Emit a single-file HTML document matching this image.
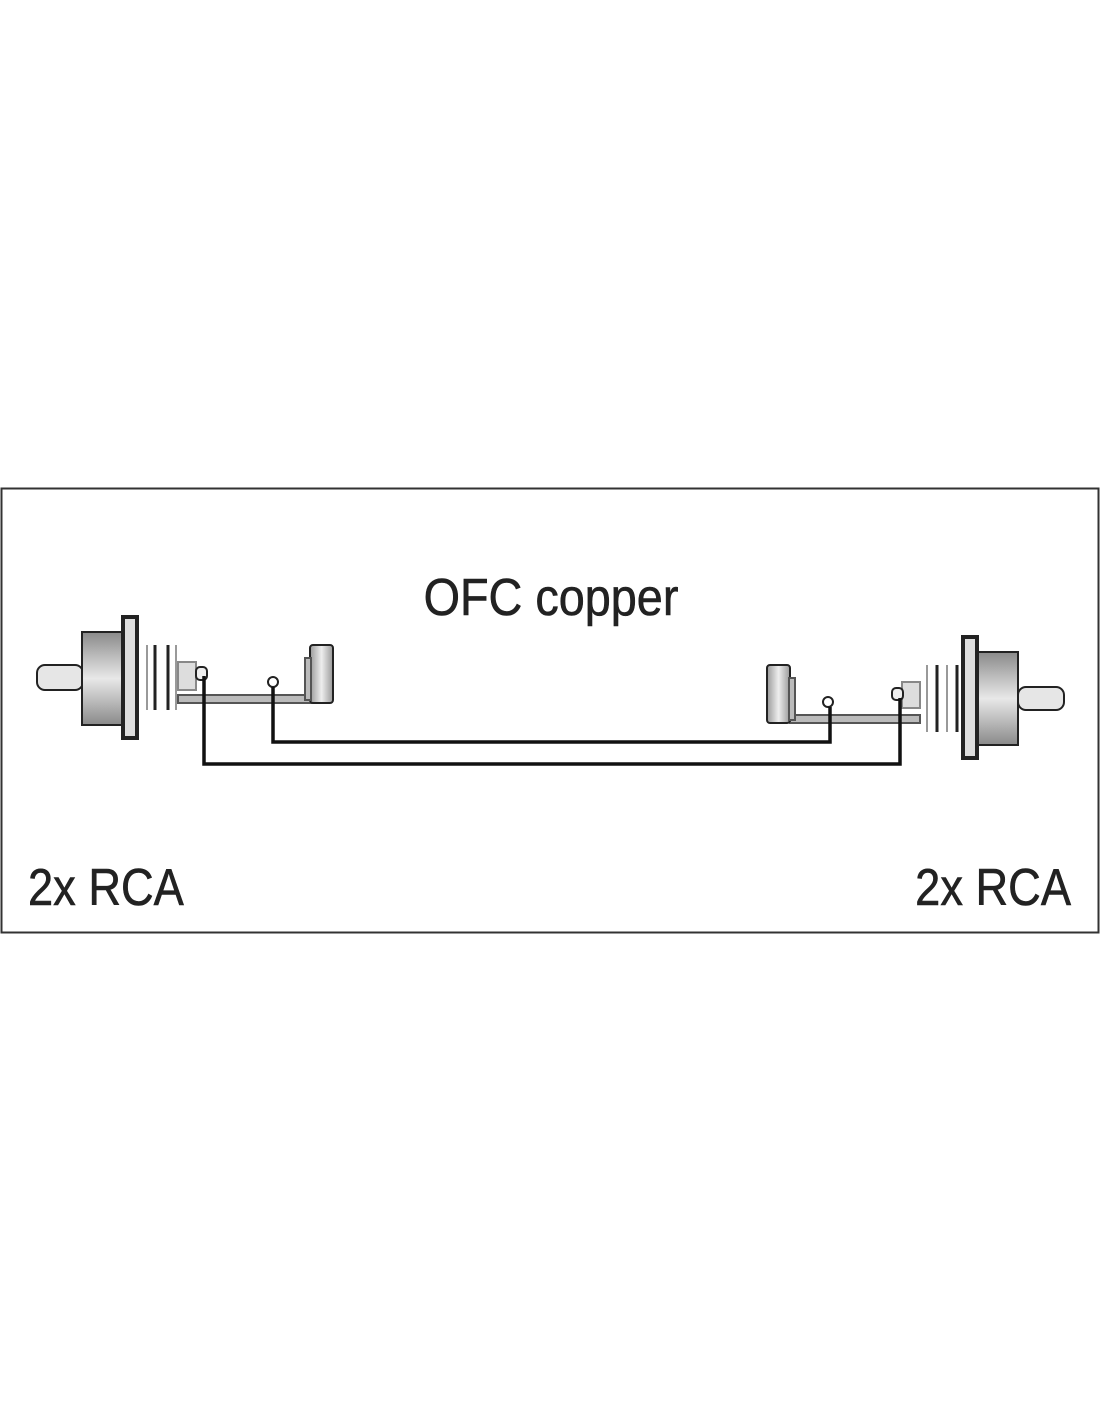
<!DOCTYPE html>
<html><head><style>
html,body{margin:0;padding:0;background:#fff;}
svg{display:block}
</style></head><body>
<svg width="1100" height="1422" viewBox="0 0 1100 1422" xmlns="http://www.w3.org/2000/svg">
<defs>
<linearGradient id="g" x1="0" y1="0" x2="0" y2="1">
<stop offset="0" stop-color="#8a8a8a"/><stop offset="0.5" stop-color="#e8e8e8"/><stop offset="1" stop-color="#8a8a8a"/>
</linearGradient>
<linearGradient id="gh" x1="0" y1="0" x2="1" y2="0">
<stop offset="0" stop-color="#999"/><stop offset="0.5" stop-color="#eee"/><stop offset="1" stop-color="#999"/>
</linearGradient>
</defs>
<rect x="1.5" y="488.5" width="1097" height="444" fill="#fff" stroke="#333" stroke-width="2"/>
<text x="551" y="615" font-family="Liberation Sans, sans-serif" font-size="52" text-anchor="middle" fill="#222" stroke="#222" stroke-width="0.6" transform="translate(551 0) scale(0.9 1) translate(-551 0)">OFC copper</text>
<text x="28" y="905" font-family="Liberation Sans, sans-serif" font-size="52" fill="#222" stroke="#222" stroke-width="0.6" transform="translate(28 0) scale(0.87 1) translate(-28 0)">2x RCA</text>
<text x="1071" y="905" font-family="Liberation Sans, sans-serif" font-size="52" fill="#222" stroke="#222" stroke-width="0.6" text-anchor="end" transform="translate(1071 0) scale(0.87 1) translate(-1071 0)">2x RCA</text>

<g stroke="#222" stroke-width="2">
<rect x="37" y="665" width="46" height="25" rx="8" fill="#e6e6e6"/>
<rect x="82" y="632" width="41" height="93" fill="url(#g)"/>
<rect x="123" y="617" width="14" height="121" fill="#ddd" stroke-width="4"/>
<line x1="147" y1="645" x2="147" y2="710" stroke="#999"/>
<line x1="155" y1="645" x2="155" y2="710" stroke-width="3"/>
<line x1="168" y1="645" x2="168" y2="710" stroke-width="3"/>
<line x1="176" y1="645" x2="176" y2="710" stroke="#999"/>
<rect x="178" y="662" width="18" height="28" fill="#ddd" stroke="#888"/>
<rect x="196" y="667" width="11" height="13" rx="4" fill="#eee"/>
<rect x="178" y="695" width="135" height="8" fill="#bbb" stroke="#555"/>
<rect x="310" y="645" width="23" height="58" rx="3" fill="url(#gh)"/>
<rect x="305" y="658" width="6" height="42" fill="#bbb" stroke="#555"/>
<circle cx="273" cy="682" r="5" fill="#fff"/>
<rect x="1018" y="687" width="46" height="23" rx="8" fill="#e6e6e6"/>
<rect x="978" y="652" width="40" height="93" fill="url(#g)"/>
<rect x="963" y="637" width="14" height="121" fill="#ddd" stroke-width="4"/>
<line x1="927" y1="665" x2="927" y2="732" stroke="#999"/>
<line x1="937" y1="665" x2="937" y2="732" stroke-width="3"/>
<line x1="947" y1="665" x2="947" y2="732" stroke="#999"/>
<line x1="957" y1="665" x2="957" y2="732" stroke-width="3"/>
<rect x="902" y="682" width="18" height="26" fill="#ddd" stroke="#888"/>
<rect x="892" y="688" width="11" height="12" rx="4" fill="#eee"/>
<rect x="790" y="715" width="130" height="8" fill="#bbb" stroke="#555"/>
<rect x="767" y="665" width="23" height="58" rx="3" fill="url(#gh)"/>
<rect x="789" y="678" width="6" height="42" fill="#bbb" stroke="#555"/>
<circle cx="828" cy="702" r="5" fill="#fff"/>
</g>
<g fill="none" stroke="#111" stroke-width="3.5">
<polyline points="204,676 204,764 900,764 900,698"/>
<polyline points="273,687 273,742 830,742 830,707"/>
</g>
</svg>
</body></html>
